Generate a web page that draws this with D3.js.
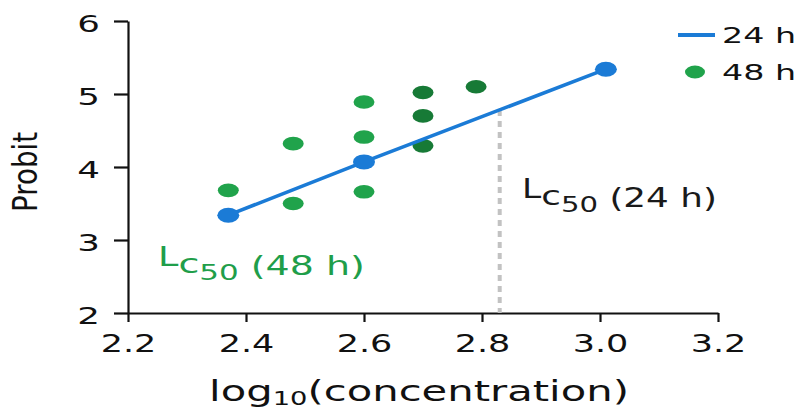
<!DOCTYPE html>
<html>
<head>
<meta charset="utf-8">
<script src="https://cdn.jsdelivr.net/npm/d3@7"></script>
<style>
  body { margin: 0; background: #fff; }
  svg { display: block; }
</style>
</head>
<body>
<div id="chart"></div>
<script>
// data
const conc24 = [2.37, 2.60, 3.01];
const probit24 = [3.34, 4.07, 5.34];

const conc48 = [2.37, 2.48, 2.48, 2.60, 2.60, 2.60, 2.70, 2.70, 2.70, 2.79];
const probit48 = [3.68, 3.50, 4.32, 3.66, 4.41, 4.89, 4.29, 4.70, 5.02, 5.10];
const tone48 = ["light", "light", "light", "light", "light", "light", "dark", "dark", "dark", "dark"];

const lc50_24 = 2.83;

const xTicks = [2.2, 2.4, 2.6, 2.8, 3.0, 3.2];
const yTicks = [2, 3, 4, 5, 6];

const width = 803,
  height = 409;

const blue = "#1b7bd6",
  green = "#20a34b",
  darkGreen = "#177a36",
  font = "DejaVu Sans";

const svg = d3.select("#chart")
  .append("svg")
  .attr("width", width)
  .attr("height", height)
  .style("background", "#fff");

const x = d3.scaleLinear().domain([2.2, 3.2]).range([128, 718]);
const y = d3.scaleLinear().domain([2, 6]).range([313, 21]);

// stretch a text node horizontally so it fills a given width
function fit(textSel, w) {
  const bw = textSel.node().getBBox().width;
  return w / bw;
}

// axes
const yAxis = svg.append("g")
  .attr("transform", `translate(${x(2.2)},0)`)
  .call(d3.axisLeft(y).tickValues(yTicks).tickSize(14).tickSizeOuter(0)
    .tickFormat(d3.format("d")));

const xAxis = svg.append("g")
  .attr("transform", `translate(0,${y(2)})`)
  .call(d3.axisBottom(x).tickValues(xTicks).tickSize(9).tickSizeOuter(0)
    .tickFormat(d3.format(".1f")));

[yAxis, xAxis].forEach(g => {
  g.attr("font-family", font);
  g.selectAll("path, line").attr("stroke", "#111").attr("stroke-width", 2.2);
});

yAxis.selectAll(".tick text")
  .attr("x", 0).attr("dy", null)
  .attr("font-size", 23).attr("fill", "#111")
  .attr("transform", "translate(-28,10.5) scale(1.55,1)");

xAxis.selectAll(".tick text")
  .attr("y", 0).attr("dy", null)
  .attr("font-size", 25).attr("fill", "#111")
  .attr("transform", "translate(0,39) scale(1.4,1)");

// axis titles
const xTitle = svg.append("text")
  .attr("font-family", font)
  .attr("font-size", 29)
  .attr("fill", "#111")
  .attr("text-anchor", "middle");
xTitle.append("tspan").text("log");
xTitle.append("tspan").attr("font-size", 19).attr("dy", 4).text("10");
xTitle.append("tspan").attr("dy", -4).text("(concentration)");
xTitle.attr("transform", `translate(419,401) scale(${fit(xTitle, 420)},1)`);

const yTitle = svg.append("text")
  .attr("font-family", font)
  .attr("font-size", 34)
  .attr("fill", "#111")
  .attr("text-anchor", "middle")
  .text("Probit");
yTitle.attr("transform", `translate(37,172) rotate(-90) scale(${fit(yTitle, 80)},1)`);

// LC50 marker for 24 h
const lineAt = d3.scaleLinear().domain(conc24).range(probit24);
svg.append("line")
  .attr("x1", x(lc50_24)).attr("x2", x(lc50_24))
  .attr("y1", y(lineAt(lc50_24)))
  .attr("y2", y(2))
  .attr("stroke", "#c2c2c2")
  .attr("stroke-width", 4)
  .attr("stroke-dasharray", "6,5");

// 48 h points
svg.append("g")
  .selectAll("ellipse")
  .data(conc48)
  .join("ellipse")
  .attr("cx", d => x(d))
  .attr("cy", (d, i) => y(probit48[i]))
  .attr("rx", 10.5)
  .attr("ry", 6.8)
  .attr("fill", (d, i) => tone48[i] === "dark" ? darkGreen : green);

// 24 h line
const pts24 = conc24.map((c, i) => [c, probit24[i]]);
svg.append("path")
  .datum(pts24)
  .attr("fill", "none")
  .attr("stroke", blue)
  .attr("stroke-width", 3.6)
  .attr("d", d3.line().x(d => x(d[0])).y(d => y(d[1])));

svg.append("g")
  .selectAll("ellipse")
  .data(pts24)
  .join("ellipse")
  .attr("cx", d => x(d[0]))
  .attr("cy", d => y(d[1]))
  .attr("rx", 11)
  .attr("ry", 7.5)
  .attr("fill", blue);

// LC50 labels
function lcLabel(px, py, hours, color, w) {
  const t = svg.append("text")
    .attr("font-family", font)
    .attr("font-size", 27)
    .attr("fill", color);
  t.append("tspan").attr("font-size", 26).attr("dy", -9).text("L");
  t.append("tspan").attr("dy", 7).text("c");
  t.append("tspan").attr("font-size", 22).attr("dy", 7).text("50");
  t.append("tspan").attr("dy", -5).text(` (${hours} h)`);
  t.attr("transform", `translate(${px},${py}) scale(${fit(t, w)},1)`);
}
lcLabel(522, 207, 24, "#1a1a1a", 195);
lcLabel(158, 275, 48, "#1f9e4a", 207);

// legend
const legend = svg.append("g").attr("font-family", font).attr("fill", "#111");
legend.append("line")
  .attr("x1", 678).attr("x2", 715)
  .attr("y1", 35).attr("y2", 35)
  .attr("stroke", blue)
  .attr("stroke-width", 4);
legend.append("ellipse")
  .attr("cx", 695).attr("cy", 72)
  .attr("rx", 10).attr("ry", 6.5)
  .attr("fill", green);
[["24 h", 43], ["48 h", 80]].forEach(([label, by]) => {
  const t = legend.append("text").attr("font-size", 22).text(label);
  t.attr("transform", `translate(722,${by}) scale(${fit(t, 74)},1)`);
});
</script>
</body>
</html>
